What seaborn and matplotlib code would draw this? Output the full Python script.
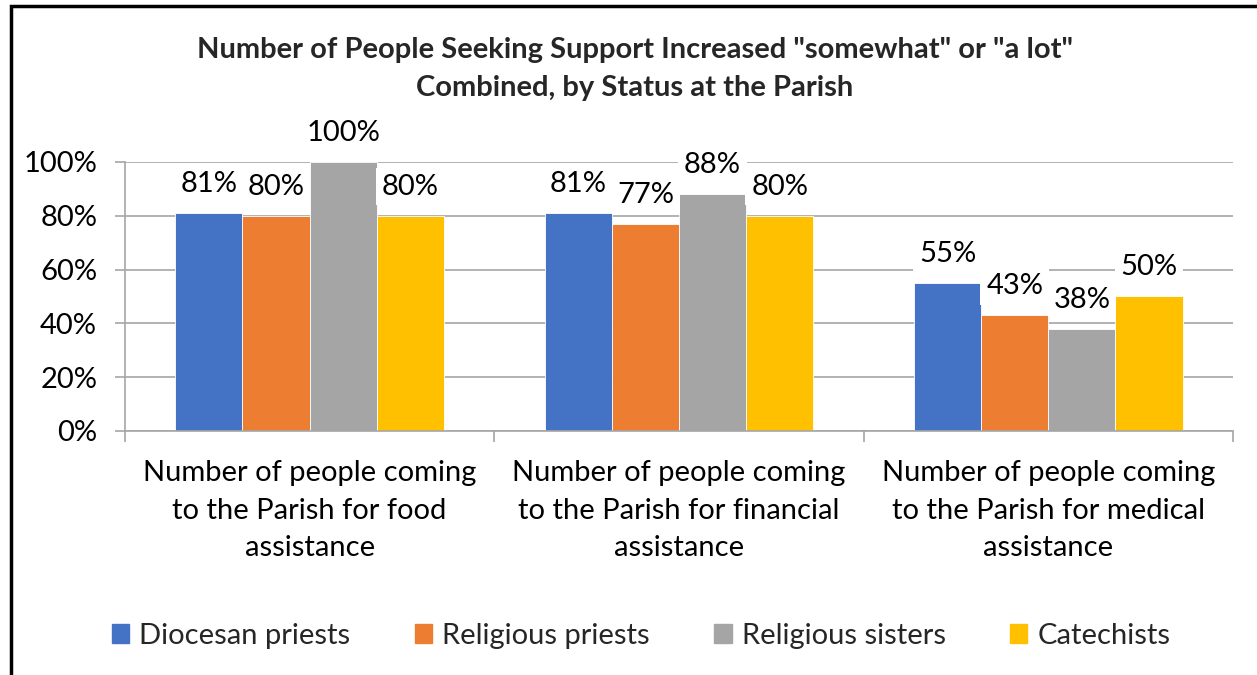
import matplotlib
matplotlib.use("Agg")
import matplotlib.pyplot as plt
import matplotlib.patches as mpatches
from matplotlib.ticker import PercentFormatter, FixedLocator
import seaborn as sns
import pandas as pd

categories = [
    "Number of people coming\nto the Parish for food\nassistance",
    "Number of people coming\nto the Parish for financial\nassistance",
    "Number of people coming\nto the Parish for medical\nassistance",
]
groups = ["Diocesan priests", "Religious priests", "Religious sisters", "Catechists"]
diocesan_priests = [0.81, 0.81, 0.55]
religious_priests = [0.80, 0.77, 0.43]
religious_sisters = [1.00, 0.88, 0.38]
catechists = [0.80, 0.80, 0.50]
colors = ["#4472C4", "#ED7D31", "#A5A5A5", "#FFC000"]
title = 'Number of People Seeking Support Increased "somewhat" or "a lot"\nCombined, by Status at the Parish'

series = [diocesan_priests, religious_priests, religious_sisters, catechists]
rows = []
for g, vals in zip(groups, series):
    for c, v in zip(categories, vals):
        rows.append({"category": c, "group": g, "value": v})
df = pd.DataFrame(rows)

sns.set_style("white")
plt.rcParams["font.family"] = ["Lato", "DejaVu Sans"]

fig = plt.figure(figsize=(12.57, 6.75), dpi=100)
ax = fig.add_axes([0.0994, 0.3615, 0.8815, 0.3985])

sns.barplot(data=df, x="category", y="value", hue="group", order=categories,
            hue_order=groups, palette=colors, width=0.727, ax=ax,
            edgecolor="white", linewidth=0.6, saturation=1, zorder=2)

ax.set_ylim(0, 1.0)
ax.set_xlim(-0.5, 2.5)
ax.yaxis.set_major_locator(FixedLocator([0, 0.2, 0.4, 0.6, 0.8, 1.0]))
ax.yaxis.set_major_formatter(PercentFormatter(1.0, decimals=0))
ax.grid(axis="y", color="#A6A6A6", linewidth=1.2, zorder=0)
ax.set_axisbelow(True)
ax.set_xlabel("")
ax.set_ylabel("")

for side in ["top", "right"]:
    ax.spines[side].set_visible(False)
for side in ["left", "bottom"]:
    ax.spines[side].set_color("#A6A6A6")
    ax.spines[side].set_linewidth(1.2)

ax.set_xticks(range(len(categories)))
ax.set_xticklabels(categories, linespacing=1.55)
ax.tick_params(axis="y", which="major", left=True, length=7, width=1.2,
               color="#A6A6A6", labelsize=21, pad=13, labelcolor="black")
ax.tick_params(axis="x", which="major", length=0, labelsize=21, pad=21, labelcolor="black")
ax.xaxis.set_minor_locator(FixedLocator([-0.5, 0.5, 1.5, 2.5]))
ax.tick_params(axis="x", which="minor", bottom=True, length=8, width=1.2, color="#A6A6A6")

for container in ax.containers:
    for bar in container:
        h = bar.get_height()
        ax.annotate(f"{h * 100:.0f}%", (bar.get_x() + bar.get_width() / 2, h),
                    xytext=(0, 21), textcoords="offset points",
                    ha="center", va="center", fontsize=21, color="black",
                    bbox=dict(boxstyle="square,pad=0.2", fc="white", ec="none"),
                    zorder=4, annotation_clip=False)

ax.legend_.remove()
handles = [mpatches.Patch(color=c, label=g) for c, g in zip(colors, groups)]
fig.legend(handles=handles, loc="center", bbox_to_anchor=(0.51, 0.058), ncol=4,
           frameon=False, fontsize=21, handlelength=0.6, handleheight=0.6,
           handletextpad=0.35, columnspacing=2.2)

fig.text(0.505, 1 - 69 / 675, title, ha="center", va="center", fontsize=21,
         fontweight="bold", linespacing=1.55)

border = mpatches.Rectangle((11 / 1257, -0.2), 1.2, 1.2 - 6 / 675,
                            transform=fig.transFigure, fill=False,
                            edgecolor="black", linewidth=2.5, clip_on=False)
fig.patches.append(border)

fig.savefig("out.png", dpi=100)
